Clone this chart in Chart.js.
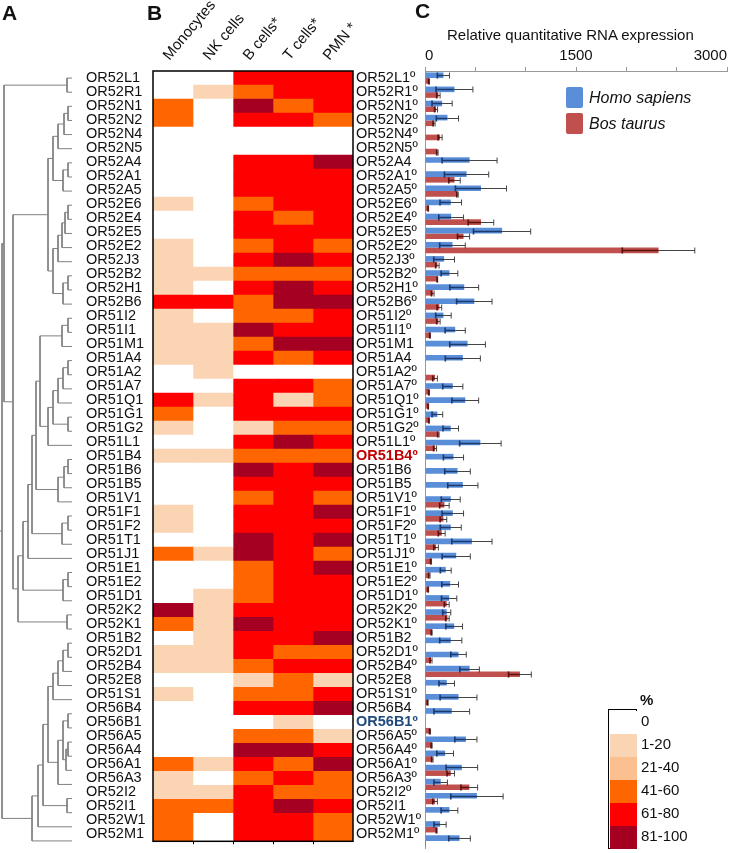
<!DOCTYPE html>
<html>
<head>
<meta charset="utf-8">
<script src="https://cdn.jsdelivr.net/npm/chart.js@4.4.1/dist/chart.umd.min.js"></script>
<style>
body{margin:0;background:#fff;width:731px;height:853px;overflow:hidden;position:relative;font-family:"Liberation Sans",Arial,sans-serif;color:#111;}
canvas{position:absolute;top:0;}
.pl{position:absolute;font-weight:bold;font-size:21px;line-height:21px;}
.txt{position:absolute;white-space:nowrap;}
</style>
</head>
<body>
<canvas id="dendro" width="84" height="853" style="left:0;width:84px;height:853px"></canvas>
<canvas id="heat" width="338" height="853" style="left:86px;width:338px;height:853px"></canvas>
<canvas id="bars" width="311" height="853" style="left:420px;width:311px;height:853px"></canvas>
<div class="pl" style="left:2px;top:2px">A</div>
<div class="pl" style="left:147px;top:2px">B</div>
<div class="pl" style="left:415px;top:0px">C</div>
<div class="txt" style="left:447px;top:26px;font-size:15px;line-height:18px">Relative quantitative RNA expression</div>
<div class="txt" style="left:566px;top:87px;width:17px;height:21px;background:#5B8ED8;border-radius:2px"></div>
<div class="txt" style="left:589px;top:87px;font-size:16px;line-height:21px;font-style:italic">Homo sapiens</div>
<div class="txt" style="left:566px;top:113px;width:17px;height:21px;background:#C0504D;border-radius:2px"></div>
<div class="txt" style="left:589px;top:113px;font-size:16px;line-height:21px;font-style:italic">Bos taurus</div>
<div id="scale"></div>
<script>
// heat map levels: 0 = 0 %, 1 = 1-20, 2 = 21-40, 3 = 41-60, 4 = 61-80, 5 = 81-100
const levelLabels=['0','1-20','21-40','41-60','61-80','81-100'];
const levelColors=['#FFFFFF','#FBD4B4','#FAC090','#FF6600','#FF0000','#A50021'];
const cellTypes=['Monocytes','NK cells','B cells*','T cells*','PMN *'];
const genes=['OR52L1','OR52R1','OR52N1','OR52N2','OR52N4','OR52N5','OR52A4','OR52A1','OR52A5','OR52E6','OR52E4','OR52E5','OR52E2','OR52J3','OR52B2','OR52H1','OR52B6','OR51I2','OR51I1','OR51M1','OR51A4','OR51A2','OR51A7','OR51Q1','OR51G1','OR51G2','OR51L1','OR51B4','OR51B6','OR51B5','OR51V1','OR51F1','OR51F2','OR51T1','OR51J1','OR51E1','OR51E2','OR51D1','OR52K2','OR52K1','OR51B2','OR52D1','OR52B4','OR52E8','OR51S1','OR56B4','OR56B1','OR56A5','OR56A4','OR56A1','OR56A3','OR52I2','OR52I1','OR52W1','OR52M1'];
const rightLabels=['OR52L1º','OR52R1º','OR52N1º','OR52N2º','OR52N4º','OR52N5º','OR52A4','OR52A1º','OR52A5º','OR52E6º','OR52E4º','OR52E5º','OR52E2º','OR52J3º','OR52B2º','OR52H1º','OR52B6º','OR51I2º','OR51I1º','OR51M1','OR51A4','OR51A2º','OR51A7º','OR51Q1º','OR51G1º','OR51G2º','OR51L1º','OR51B4º','OR51B6','OR51B5','OR51V1º','OR51F1º','OR51F2º','OR51T1º','OR51J1º','OR51E1º','OR51E2º','OR51D1º','OR52K2º','OR52K1º','OR51B2','OR52D1º','OR52B4º','OR52E8','OR51S1º','OR56B4','OR56B1º','OR56A5º','OR56A4º','OR56A1º','OR56A3º','OR52I2º','OR52I1','OR52W1º','OR52M1º'];
const monocytes=[0,0,3,3,0,0,0,0,0,1, 0,0,1,1,1,1,4,1,1,1, 1,0,0,4,3,1,0,1,0,0, 0,1,1,0,3,0,0,0,5,3, 0,1,1,0,1,0,0,0,0,3, 1,1,3,3,3];
const nkCells=[0,1,0,0,0,0,0,0,0,0, 0,0,0,0,1,0,4,0,1,1, 1,1,0,1,0,0,0,1,0,0, 0,0,0,0,1,0,0,1,1,1, 1,1,1,0,0,0,0,0,0,1, 0,1,3,0,0];
const bCells=[4,3,5,4,0,0,4,4,4,3, 4,4,3,4,3,4,3,3,5,3, 4,0,4,4,4,1,4,3,5,4, 3,4,4,5,5,3,3,3,4,5, 4,4,3,1,3,4,0,3,5,4, 3,4,4,4,4];
const tCells=[4,4,3,4,0,0,4,4,4,4, 3,4,4,5,3,5,5,3,4,5, 3,0,4,1,4,3,5,3,4,4, 4,4,4,4,4,4,4,4,4,4, 4,3,4,3,3,4,1,3,5,3, 4,3,5,4,4];
const pmn=[4,4,4,3,0,0,5,4,4,4, 4,4,3,4,3,4,5,4,4,5, 4,0,3,3,4,3,4,3,5,4, 3,5,4,5,3,5,4,4,4,4, 5,3,4,1,4,5,0,1,4,5, 3,3,4,3,3];
// relative RNA expression
const homoSapiens=[183,293,170,223,5,5,443,413,556,256, 260,766,273,190,243,390,490,183,300,423, 376,0,276,400,123,256,550,283,323,376, 256,276,256,466,310,206,250,240,216,290, 256,333,443,216,333,266,0,406,200,366, 156,516,243,150,343];
const homoSapiensErr=[60,183,100,110,0,0,273,220,254,107, 123,284,127,103,83,143,176,77,100,177, 174,0,100,133,53,77,206,100,127,150, 94,107,104,200,140,54,83,76,40,83, 110,77,97,77,183,177,0,110,83,157, 67,260,83,60,107];
const bosTaurus=[40,133,110,90,150,123,0,293,323,33, 556,383,2320,123,123,77,143,133,50,0, 0,100,40,33,40,133,100,0,0,0, 193,183,166,110,60,43,33,216,223,66, 0,60,943,0,27,0,50,66,73,256, 440,100,0,116,10];
const bosTaurusErr=[5,17,15,10,20,7,0,57,7,3, 127,60,360,17,3,13,23,17,3,0, 0,23,4,3,4,7,15,0,0,0, 47,33,34,23,5,7,3,24,17,5, 0,10,113,0,4,0,5,5,7,37, 83,23,0,4,0];
const xTicks=[0,1500,3000];
// dendrogram: [merge distance, child, child] with leaf = row index
const dendroTree=[2,
  [4,[67,0,1],
    [13,
      [48,
        [53,[58,[64,[68,2,3],4],5],[63,[68,6,7],8]],
        [53,[58,[62,[65,[68,9,10],11],12],13],[63,[68,14,15],16]]],
      [18,
        [23,
          [28,
            [32,
              [36,
                [40,[62,[68,17,18],19],[48,[53,[58,[63,[68,20,21],22],23],[68,24,25]],26]],
                [58,[64,[68,27,28],29],30]],
              [62,[68,31,32],33]],
            34],
          [63,[68,35,36],37]],
        [67,38,39]]]],
  [32,[38,[43,[48,[53,[58,[63,[68,40,41],42],43],44],[58,[63,[68,45,46],[66,[68,47,48],49]],50]],[67,51,52]],53],54]];
const leafDist=72;

Chart.defaults.font.family='"Liberation Sans", Arial, sans-serif';
Chart.defaults.color='#111';
Chart.defaults.animation=false;

// dendrogram segments
const dendroPts=[];
function seg(x1,y1,x2,y2){dendroPts.push({x:x1,y:y1},{x:x2,y:y2},{x:x2,y:null});}
function walk(n){
  if(typeof n==='number') return {x:leafDist,y:n};
  const kids=n.slice(1).map(walk);
  const ys=kids.map(k=>k.y);
  const lo=Math.min(...ys),hi=Math.max(...ys);
  seg(n[0],lo,n[0],hi);
  kids.forEach(k=>seg(n[0],k.y,k.x,k.y));
  return {x:n[0],y:(lo+hi)/2};
}
const rootPos=walk(dendroTree);
seg(0,rootPos.y,rootPos.x,rootPos.y);

new Chart(document.getElementById('dendro'),{
  type:'line',
  data:{datasets:[{data:dendroPts,borderColor:'#808080',borderWidth:1,pointRadius:0,spanGaps:false,tension:0}]},
  options:{responsive:false,layout:{padding:{top:71,bottom:5,left:0,right:0}},
    plugins:{legend:{display:false},tooltip:{enabled:false}},
    scales:{x:{type:'linear',min:0,max:84,display:false},y:{type:'linear',min:-0.5,max:54.5,reverse:true,display:false}}}
});

// heat map as stacked horizontal cells
const columns=[monocytes,nkCells,bCells,tCells,pmn];
const frame={id:'frame',afterDatasetsDraw(c){const a=c.chartArea,ctx=c.ctx;ctx.save();ctx.strokeStyle='#000';ctx.lineWidth=1.5;ctx.strokeRect(a.left,a.top,a.right-a.left,a.bottom-a.top);
  ctx.lineWidth=1;ctx.beginPath();for(let i=1;i<5;i++){const x=Math.round(a.left+(a.right-a.left)*i/5)+0.5;ctx.moveTo(x,a.bottom);ctx.lineTo(x,a.bottom+3);}ctx.stroke();ctx.restore();}};
new Chart(document.getElementById('heat'),{
  type:'bar',
  data:{labels:genes,datasets:columns.map((col,i)=>({label:cellTypes[i],data:col.map(()=>1),backgroundColor:col.map(l=>levelColors[l]),borderWidth:0,barPercentage:1,categoryPercentage:1}))},
  options:{indexAxis:'y',responsive:false,layout:{padding:{top:0,bottom:5,left:0,right:0}},
    plugins:{legend:{display:false},tooltip:{enabled:false}},
    scales:{
      x:{type:'linear',stacked:true,min:0,max:5,display:false},
      xTop:{type:'category',labels:cellTypes,position:'top',offset:true,grid:{display:false,drawTicks:false},border:{display:false},
        ticks:{minRotation:50,maxRotation:50,autoSkip:false,font:{size:15},color:'#111',padding:7,labelOffset:7},
        afterFit:s=>{s.height=71;}},
      y:{type:'category',stacked:true,position:'left',grid:{display:false,drawTicks:false},border:{display:false},
        ticks:{crossAlign:'far',autoSkip:false,padding:0,font:{size:14.5},color:'#111'},afterFit:s=>{s.width=67;}},
      y2:{type:'category',labels:rightLabels,position:'right',offset:true,grid:{display:false,drawTicks:false},border:{display:false},
        ticks:{autoSkip:false,padding:3,
          font:c=>({size:14.5,weight:(c.index===27||c.index===46)?'bold':'normal'}),
          color:c=>c.index===27?'#C00000':c.index===46?'#1F497D':'#111'},
        afterFit:s=>{s.width=71;}}
    }},
  plugins:[frame]
});

// expression bars with error bars
const errSets=[homoSapiensErr,bosTaurusErr];
const errorBars={id:'errorBars',afterDatasetsDraw(c){
  const ctx=c.ctx,xs=c.scales.x;ctx.save();
  c.data.datasets.forEach((ds,di)=>{
    const meta=c.getDatasetMeta(di);
    meta.data.forEach((el,i)=>{
      const v=ds.data[i],e=errSets[di][i];
      if(!e) return;
      const y=Math.round(el.y)+0.5,x0=xs.getPixelForValue(v-e),xv=xs.getPixelForValue(v),x1=xs.getPixelForValue(v+e);
      ctx.strokeStyle='#444';ctx.lineWidth=1;ctx.beginPath();
      ctx.moveTo(xv,y);ctx.lineTo(x1,y);ctx.moveTo(x1,y-3);ctx.lineTo(x1,y+3);ctx.stroke();
      ctx.strokeStyle=di===0?'#1B3A6B':'#5A1010';ctx.lineWidth=1.6;ctx.beginPath();
      ctx.moveTo(x0,y);ctx.lineTo(xv,y);ctx.moveTo(x0,y-3);ctx.lineTo(x0,y+3);ctx.stroke();
    });
  });
  ctx.restore();}};
new Chart(document.getElementById('bars'),{
  type:'bar',
  data:{labels:genes,datasets:[
    {label:'Homo sapiens',data:homoSapiens,backgroundColor:'#5B8ED8',borderWidth:0,barPercentage:1,categoryPercentage:0.8},
    {label:'Bos taurus',data:bosTaurus,backgroundColor:'#C0504D',borderWidth:0,barPercentage:1,categoryPercentage:0.8}]},
  options:{indexAxis:'y',responsive:false,layout:{padding:{top:0,bottom:5,left:5,right:4}},
    plugins:{legend:{display:false},tooltip:{enabled:false}},
    scales:{
      x:{type:'linear',position:'top',min:0,max:3000,
        ticks:{stepSize:500,align:'inner',padding:2,font:{size:15},color:'#111',callback:v=>xTicks.includes(v)?String(v):''},
        grid:{drawOnChartArea:false,drawTicks:true,tickLength:4,color:'#999'},border:{color:'#999'},
        afterFit:s=>{s.height=71;}},
      y:{type:'category',ticks:{display:false},grid:{display:false,drawTicks:false},border:{color:'#999'},afterFit:s=>{s.width=0;}}
    }},
  plugins:[errorBars]
});

// colour key
const key=document.getElementById('scale');
let html='<div class="txt" style="left:640px;top:692px;font-size:15px;font-weight:bold;line-height:16px">%</div>';
html+='<div class="txt" style="left:608px;top:709px;width:27px;height:138px;border:1.5px solid #000"></div>';
levelLabels.forEach((l,i)=>{
  html+=`<div class="txt" style="left:609.5px;top:${710.5+i*23}px;width:27px;height:23px;background:${levelColors[i]}"></div>`;
  html+=`<div class="txt" style="left:641px;top:${712+i*23}px;font-size:15px;line-height:18px">${l}</div>`;
});
key.innerHTML=html;
</script>
</body>
</html>
